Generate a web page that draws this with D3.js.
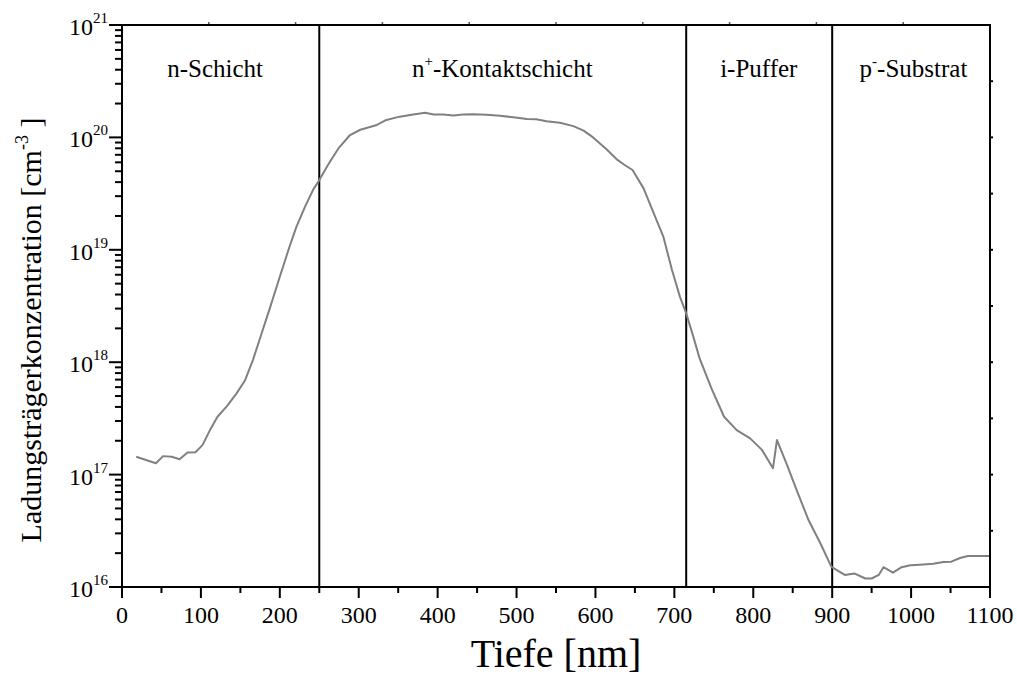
<!DOCTYPE html>
<html><head><meta charset="utf-8">
<script src="https://cdn.jsdelivr.net/npm/d3@7"></script>
<style>body{margin:0;background:#fff}svg{display:block}</style>
</head><body><svg id="c" width="1017" height="676" font-family="'Liberation Serif', 'Times New Roman', serif"></svg>
<script>
const depth = [18,43,52,63,73,83,93,102,111,121,133,145,156,166,177,188,200,211,221,232,242,250,261,274,289,302,323,335,352,369,384,395,407,420,432,445,462,479,496,513,525,538,555,572,585,597,614,627,637,647,661,673,686,697,707,715,724,732,747,763,779,796,811,825,830,842,855,870,885,899,916,928,942,950,959,965,977,988,999,1011,1028,1041,1051,1062,1072,1099];
const conc = [1.44e17,1.26e17,1.46e17,1.44e17,1.37e17,1.57e17,1.58e17,1.83e17,2.45e17,3.27e17,4.07e17,5.25e17,6.92e17,1.05e18,1.81e18,3.12e18,5.75e18,1.0e19,1.60e19,2.42e19,3.40e19,4.17e19,5.68e19,7.94e19,1.05e20,1.17e20,1.29e20,1.43e20,1.53e20,1.60e20,1.66e20,1.60e20,1.60e20,1.57e20,1.60e20,1.61e20,1.59e20,1.56e20,1.51e20,1.46e20,1.45e20,1.39e20,1.35e20,1.26e20,1.15e20,1.0e20,7.83e19,6.38e19,5.68e19,5.13e19,3.52e19,2.19e19,1.31e19,6.61e18,3.83e18,2.72e18,1.69e18,1.08e18,5.86e17,3.27e17,2.49e17,2.10e17,1.66e17,1.14e17,2.03e17,1.26e17,7.29e16,3.94e16,2.45e16,1.51e16,1.28e16,1.32e16,1.19e16,1.19e16,1.28e16,1.50e16,1.34e16,1.50e16,1.56e16,1.58e16,1.61e16,1.67e16,1.68e16,1.81e16,1.89e16,1.89e16];
const xTicks = [0,100,200,300,400,500,600,700,800,900,1000,1100];
const topTicks = [110,220,330,440,550,660,770,880,990];
const yExponents = [16,17,18,19,20,21];
const rightExponents = [16.5,17,17.5,18,18.5,19,19.5,20,20.5];
const boundaries = [250,715,900];
const regionLabels = [
  {pos:118, main:"n-Schicht", sup:"", rest:""},
  {pos:482, main:"n", sup:"+", rest:"-Kontaktschicht"},
  {pos:807, main:"i-Puffer", sup:"", rest:""},
  {pos:1003, main:"p", sup:"-", rest:"-Substrat"}
];

const FONT = "'Liberation Serif', 'Times New Roman', serif";
const svg = d3.select("#c");
const L=122, R=990, T=25, B=587;
const x = d3.scaleLinear().domain([0,1100]).range([L,R]);
const y = d3.scaleLog().domain([1e16,1e21]).range([B,T]);

// left axis ticks
const minor = [];
for (let e=16;e<21;e++) for (let m=2;m<=9;m++) minor.push(m*Math.pow(10,e));
const gl = svg.append("g");
gl.selectAll("line.mi").data(minor).join("line")
  .attr("x1",L-7).attr("x2",L+1).attr("y1",d=>y(d)).attr("y2",d=>y(d))
  .attr("stroke","#000").attr("stroke-width",2);
gl.selectAll("line.ma").data(yExponents).join("line")
  .attr("x1",L-13).attr("x2",L).attr("y1",d=>y(Math.pow(10,d))).attr("y2",d=>y(Math.pow(10,d)))
  .attr("stroke","#000").attr("stroke-width",2);
const yl = gl.selectAll("text.yl").data(yExponents).join("text")
  .attr("font-family",FONT)
  .attr("x",L-14).attr("y",d=>y(Math.pow(10,d))+10).attr("text-anchor","end").attr("font-size",24);
yl.append("tspan").text("10");
yl.append("tspan").attr("dy",-12).attr("font-size",15).text(d=>d);

// right axis small ticks
svg.append("g").selectAll("line").data(rightExponents).join("line")
  .attr("x1",R).attr("x2",R+3).attr("y1",d=>y(Math.pow(10,d))).attr("y2",d=>y(Math.pow(10,d)))
  .attr("stroke","#000").attr("stroke-width",2);
// top axis small ticks
svg.append("g").selectAll("line").data(topTicks).join("line")
  .attr("x1",d=>x(d)).attr("x2",d=>x(d)).attr("y1",T).attr("y2",T-3)
  .attr("stroke","#555").attr("stroke-width",1.5);

// bottom axis
const gb = svg.append("g");
gb.selectAll("line.mi").data(d3.range(50,1100,100)).join("line")
  .attr("x1",d=>x(d)).attr("x2",d=>x(d)).attr("y1",B).attr("y2",B+6)
  .attr("stroke","#000").attr("stroke-width",2);
gb.selectAll("line.ma").data(xTicks).join("line")
  .attr("x1",d=>x(d)).attr("x2",d=>x(d)).attr("y1",B).attr("y2",B+11)
  .attr("stroke","#000").attr("stroke-width",2);
gb.selectAll("text").data(xTicks).join("text")
  .attr("font-family",FONT)
  .attr("x",d=>x(d)).attr("y",B+36).attr("text-anchor","middle").attr("font-size",24).text(d=>d);

// region boundaries
svg.append("g").selectAll("line").data(boundaries).join("line")
  .attr("x1",d=>x(d)).attr("x2",d=>x(d)).attr("y1",T).attr("y2",B)
  .attr("stroke","#000").attr("stroke-width",2);

// curve
const pts = depth.map((d,i)=>[d,conc[i]]);
svg.append("path").datum(pts)
  .attr("d", d3.line().x(d=>x(d[0])).y(d=>y(d[1])))
  .attr("fill","none").attr("stroke","#808080").attr("stroke-width",2).attr("stroke-linejoin","round");

// frame
svg.append("rect").attr("x",L).attr("y",T).attr("width",R-L).attr("height",B-T)
  .attr("fill","none").attr("stroke","#000").attr("stroke-width",2);

// region labels
const rl = svg.append("g").selectAll("text").data(regionLabels).join("text")
  .attr("font-family",FONT)
  .attr("x",d=>x(d.pos)).attr("y",77).attr("text-anchor","middle").attr("font-size",25);
rl.append("tspan").text(d=>d.main);
rl.append("tspan").attr("dy",d=>d.sup?-11:0).attr("font-size",15).text(d=>d.sup);
rl.append("tspan").attr("dy",d=>d.sup?11:0).text(d=>d.rest);

// axis titles
svg.append("text").attr("font-family",FONT).attr("x",556).attr("y",667).attr("text-anchor","middle").attr("font-size",40).text("Tiefe [nm]");
const yt = svg.append("text").attr("font-family",FONT).attr("transform",`translate(41,330) rotate(-90)`).attr("text-anchor","middle").attr("font-size",30);
yt.append("tspan").text("Ladungsträgerkonzentration [cm");
yt.append("tspan").attr("dy",-13).attr("font-size",18).text("-3");
yt.append("tspan").attr("dy",13).text(" ]");
</script></body></html>
